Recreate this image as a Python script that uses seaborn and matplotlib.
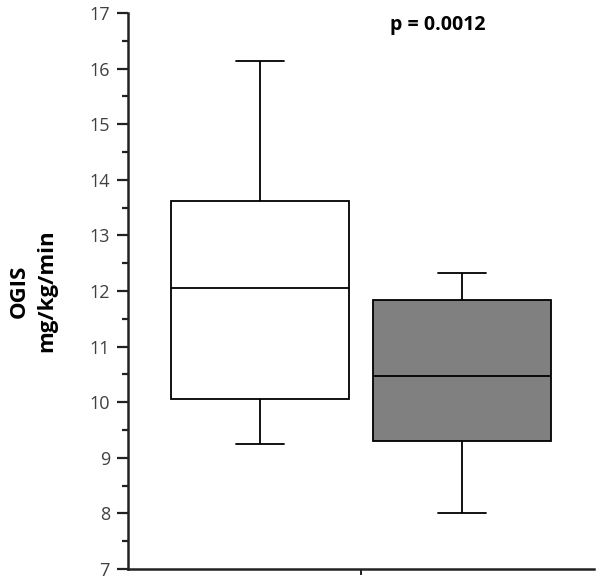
import numpy as np
import pandas as pd
import matplotlib
matplotlib.use("Agg")
import matplotlib.pyplot as plt
import seaborn as sns
from matplotlib.ticker import MultipleLocator

# Five-number summaries: [min, Q1, median, Q3, max]
groups = ["Group 1", "Group 2"]
group1_stats = [9.24, 10.05, 12.05, 13.62, 16.13]
group2_stats = [8.00, 9.31, 10.48, 11.83, 12.32]
fills = ["#ffffff", "#808080"]
y_ticks = [7, 8, 9, 10, 11, 12, 13, 14, 15, 16, 17]
p_text = "p = 0.0012"
y_label = "OGIS\nmg/kg/min"

df = pd.DataFrame({
    "group": [groups[0]] * len(group1_stats) + [groups[1]] * len(group2_stats),
    "value": group1_stats + group2_stats,
})

sns.set_style("white")
plt.rcParams["font.family"] = ["Open Sans", "DejaVu Sans"]

fig = plt.figure(figsize=(6, 5.8), dpi=100)
ax = fig.add_axes([128 / 600, 1 - 569 / 580, (594 - 128) / 600, (569 - 13) / 580])

sns.boxplot(data=df, x="group", y="value", hue="group", palette=fills,
            width=0.88, whis=(0, 100), linecolor="black", linewidth=1.3,
            legend=False, ax=ax, capwidths=0.24,
            medianprops=dict(color="black", linewidth=1.3))

ax.set_xlim(-0.653, 1.653)
ax.set_ylim(7, 17)
ax.set_yticks(y_ticks)
ax.yaxis.set_minor_locator(MultipleLocator(0.5))
ax.set_xticks([0.5])
ax.set_xticklabels([""])
ax.set_xlabel("")
ax.set_ylabel("")

for s in ["top", "right"]:
    ax.spines[s].set_visible(False)
for s in ["left", "bottom"]:
    ax.spines[s].set_linewidth(1.8)
    ax.spines[s].set_color("#222222")

ax.tick_params(axis="y", which="major", direction="out", length=8, width=1.6,
               color="#222222", labelsize=13, labelcolor="#404040", pad=5, left=True)
ax.tick_params(axis="y", which="minor", direction="out", length=4.5, width=1.6,
               color="#222222", left=True)
ax.tick_params(axis="x", which="major", direction="out", length=4, width=1.4,
               color="#222222", bottom=True)

fig.text(33 / 600, 1 - 291 / 580, y_label, rotation=90, ha="center", va="center",
         fontsize=16, fontweight="bold", linespacing=1.45, color="black")
fig.text(438 / 600, 1 - 25 / 580, p_text, ha="center", va="center",
         fontsize=14, fontweight="bold", color="black")

fig.savefig("out.png", dpi=100)
